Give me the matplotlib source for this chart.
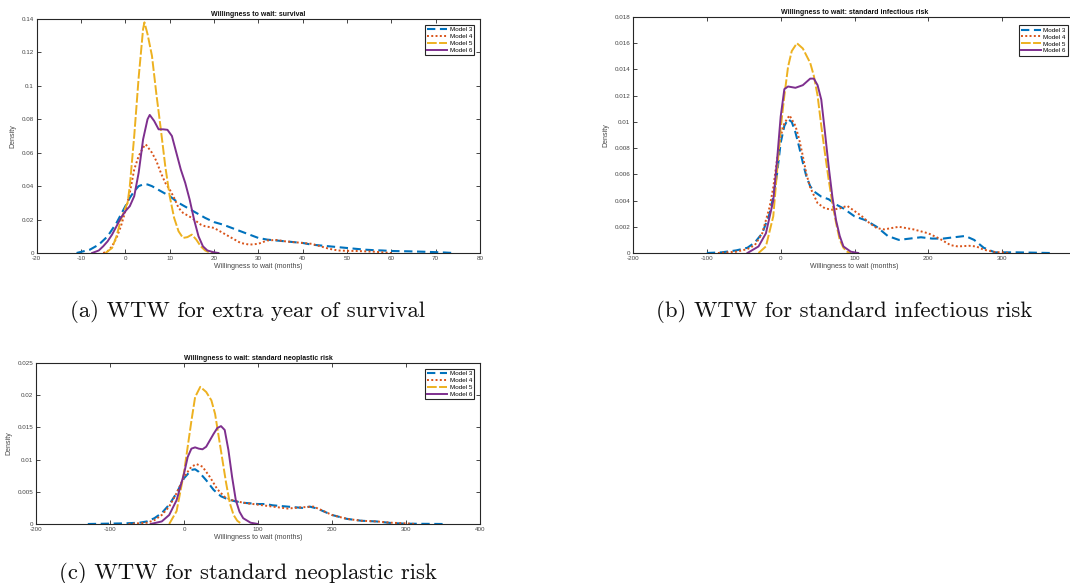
import matplotlib
matplotlib.use('Agg')
import matplotlib.pyplot as plt
from matplotlib.ticker import FuncFormatter

plt.rcParams['font.family'] = 'Liberation Sans'
plt.rcParams['axes.unicode_minus'] = False

labels = ['Model 3', 'Model 4', 'Model 5', 'Model 6']
colors = ['#0072BD', '#D95319', '#EDB120', '#7E2F8E']
styles = [(0, (4, 2.2)), (0, (1, 1.2)), (0, (5, 1.2)), '-']
widths = [1.5, 1.4, 1.4, 1.4]

# (a) survival
surv_m3_x = [-11, -8, -6, -4, -2, 0, 1, 2, 3, 4, 5, 6, 8, 10, 12, 14, 16, 18, 20, 22, 24, 26, 28, 30,
             32, 34, 36, 38, 40, 42, 44, 46, 48, 50, 52, 54, 56, 58, 60, 64, 68, 72, 74]
surv_m3_y = [0, 0.002, 0.005, 0.01, 0.018, 0.028, 0.033, 0.037, 0.040, 0.041, 0.041, 0.040, 0.037,
             0.034, 0.030, 0.027, 0.024, 0.021, 0.0185, 0.017, 0.015, 0.013, 0.011, 0.009, 0.008,
             0.0075, 0.007, 0.0065, 0.006, 0.005, 0.0045, 0.004, 0.0035, 0.003, 0.0025, 0.002,
             0.0017, 0.0015, 0.0012, 0.001, 0.0007, 0.0003, 0]
surv_m4_x = [-5, -4, -3, -2, -1, 0, 1, 2, 3, 4, 4.6, 6, 7, 8, 9, 10, 11, 12, 13, 15, 17, 18, 20, 22,
             24, 26, 28, 30, 32, 34, 36, 38, 40, 42, 44, 46, 48, 50, 52, 54, 56, 58, 60]
surv_m4_y = [0, 0.001, 0.004, 0.009, 0.016, 0.025, 0.036, 0.05, 0.058, 0.063, 0.065, 0.060, 0.055,
             0.048, 0.042, 0.038, 0.033, 0.027, 0.024, 0.021, 0.017, 0.016, 0.015, 0.012, 0.009,
             0.006, 0.005, 0.0055, 0.0075, 0.0078, 0.007, 0.0065, 0.006, 0.0055, 0.004, 0.0025,
             0.0015, 0.0013, 0.0012, 0.001, 0.0008, 0.0004, 0]
surv_m5_x = [-4.5, -3, -2, -1, 0, 0.5, 1, 2, 3, 4, 4.3, 5, 6, 7, 8, 9, 10, 11, 12, 13, 14, 15, 16,
             17, 18, 19, 20]
surv_m5_y = [0, 0.003, 0.01, 0.02, 0.027, 0.03, 0.04, 0.07, 0.105, 0.134, 0.138, 0.131, 0.118,
             0.095, 0.074, 0.052, 0.034, 0.021, 0.013, 0.009, 0.0095, 0.011, 0.008, 0.004, 0.0015,
             0.0003, 0]
surv_m6_x = [-7.5, -6, -5, -4, -3, -2, -1, 0, 1, 2, 3, 4, 5, 5.5, 6.5, 7.5, 8.5, 9.5, 10.5, 11.5,
             12.5, 13.5, 14.5, 15.5, 16.5, 17.5, 18.5, 20, 21]
surv_m6_y = [0, 0.0015, 0.004, 0.007, 0.011, 0.016, 0.021, 0.025, 0.028, 0.034, 0.048, 0.068, 0.080,
             0.0826, 0.079, 0.074, 0.074, 0.0737, 0.070, 0.060, 0.050, 0.042, 0.032, 0.020, 0.010,
             0.004, 0.0015, 0.0004, 0]

# (b) standard infectious risk
inf_m3_x = [-100, -80, -60, -45, -35, -25, -15, -10, -5, 0, 5, 10, 15, 20, 25, 30, 35, 40, 45, 55,
            65, 75, 85, 100, 115, 130, 145, 160, 175, 190, 205, 220, 235, 250, 262, 275, 290, 320, 365]
inf_m3_y = [0, 0.00005, 0.0002, 0.0004, 0.0008, 0.0015, 0.003, 0.0043, 0.006, 0.0084, 0.0097,
            0.0102, 0.0100, 0.0092, 0.0081, 0.0069, 0.0058, 0.0051, 0.0047, 0.0043, 0.0041, 0.0037,
            0.0034, 0.0028, 0.0025, 0.0020, 0.0013, 0.0010, 0.0011, 0.0012, 0.0011, 0.0011, 0.0012,
            0.0013, 0.0010, 0.0004, 0.00005, 0.00005, 0]
inf_m4_x = [-85, -60, -45, -35, -25, -15, -10, -5, 0, 5, 12, 20, 25, 30, 35, 40, 50, 60, 70, 80,
            90, 100, 110, 120, 130, 140, 150, 160, 170, 180, 200, 215, 230, 240, 255, 265, 275, 290, 310]
inf_m4_y = [0, 0.0001, 0.0003, 0.0006, 0.0015, 0.0035, 0.005, 0.0071, 0.0089, 0.0099, 0.0105,
            0.0097, 0.0087, 0.0074, 0.006, 0.005, 0.0038, 0.0034, 0.0033, 0.0034, 0.0036, 0.0032,
            0.0028, 0.0023, 0.0019, 0.0018, 0.0019, 0.0020, 0.0019, 0.0018, 0.0015, 0.0011, 0.0006,
            0.0005, 0.00055, 0.0005, 0.00025, 0.00008, 0]
inf_m5_x = [-30, -20, -10, 0, 5, 10, 15, 22, 30, 40, 45, 50, 55, 60, 65, 70, 75, 80, 85, 90, 95]
inf_m5_y = [0, 0.0005, 0.0028, 0.0095, 0.012, 0.0142, 0.0154, 0.0160, 0.0156, 0.0145, 0.0135,
            0.0120, 0.0097, 0.0076, 0.0056, 0.0038, 0.0023, 0.0010, 0.0004, 0.0001, 0]
inf_m6_x = [-45, -30, -20, -10, -5, 0, 5, 10, 20, 30, 40, 45, 50, 55, 60, 65, 70, 75, 80, 85, 95, 105]
inf_m6_y = [0, 0.0005, 0.0015, 0.004, 0.007, 0.0104, 0.0125, 0.0127, 0.0126, 0.0128, 0.0133,
            0.0133, 0.0128, 0.0117, 0.0092, 0.0066, 0.0043, 0.0025, 0.0013, 0.0005, 0.0001, 0]

# (c) standard neoplastic risk
neo_m3_x = [-130, -80, -60, -50, -40, -30, -20, -10, 0, 10, 15, 20, 30, 40, 50, 60, 70, 80, 100,
            110, 120, 140, 160, 170, 180, 190, 200, 220, 240, 260, 280, 300, 350]
neo_m3_y = [0, 0.0001, 0.0002, 0.0004, 0.0009, 0.0017, 0.003, 0.0048, 0.0071, 0.0084, 0.0085,
            0.0081, 0.0068, 0.0053, 0.0043, 0.0038, 0.0035, 0.0033, 0.0031, 0.0031, 0.0029, 0.0027,
            0.0025, 0.0027, 0.0024, 0.0019, 0.0014, 0.0008, 0.0005, 0.0004, 0.00015, 0.00005, 0]
neo_m4_x = [-75, -50, -40, -30, -20, -10, 0, 10, 17, 25, 35, 45, 55, 65, 80, 100, 120, 140, 160,
            175, 185, 200, 220, 240, 260, 280, 300, 312]
neo_m4_y = [0, 0.0002, 0.0006, 0.0014, 0.0027, 0.0048, 0.0073, 0.0089, 0.0093, 0.0089, 0.0073,
            0.0054, 0.0042, 0.0037, 0.0033, 0.0030, 0.0027, 0.0024, 0.0026, 0.0027, 0.0022, 0.0014,
            0.0008, 0.0005, 0.0004, 0.0002, 0.0001, 0]
neo_m5_x = [-20, -10, 0, 5, 10, 15, 22, 30, 37, 42, 47, 52, 57, 62, 67, 72, 78]
neo_m5_y = [0, 0.002, 0.008, 0.012, 0.016, 0.0197, 0.0213, 0.0205, 0.0192, 0.0171, 0.0135, 0.0099,
            0.0063, 0.0032, 0.0014, 0.0005, 0]
neo_m6_x = [-45, -30, -20, -10, 0, 5, 10, 15, 20, 25, 30, 35, 40, 45, 50, 55, 60, 65, 70, 75, 80,
            90, 100]
neo_m6_y = [0, 0.0004, 0.0014, 0.0037, 0.0078, 0.0104, 0.0117, 0.0119, 0.0117, 0.0116, 0.012,
            0.013, 0.014, 0.0149, 0.0152, 0.0146, 0.0115, 0.0073, 0.0037, 0.0019, 0.0009, 0.0002, 0]

edge = '#262626'
tick_text = '#444444'


def draw_panel(ax, curves, title, xlim, xticks, ylim, ystep, legend_pad=0.9):
    for (x, y), lab, c, ls, lw in zip(curves, labels, colors, styles, widths):
        ax.plot(x, y, color=c, linestyle=ls, linewidth=lw, label=lab)
    ax.set_xlim(*xlim)
    ax.set_ylim(*ylim)
    ax.set_xticks(xticks)
    n = int(round((ylim[1] - ylim[0]) / ystep))
    ax.set_yticks([round(ylim[0] + i * ystep, 6) for i in range(n + 1)])
    ax.yaxis.set_major_formatter(FuncFormatter(lambda v, p: '%g' % v))
    ax.xaxis.set_major_formatter(FuncFormatter(lambda v, p: '%g' % v))
    ax.tick_params(direction='in', top=True, right=True, length=3, width=0.6,
                   labelsize=4.5, labelcolor=tick_text, color=edge, pad=2)
    for s in ax.spines.values():
        s.set_color(edge)
        s.set_linewidth(0.8)
    ax.set_title(title, fontsize=5, fontweight='bold', color='#111111', pad=2.5)
    ax.set_xlabel('Willingness to wait (months)', fontsize=5, color=tick_text, labelpad=1.5)
    ax.set_ylabel('Density', fontsize=5, color=tick_text, labelpad=4)
    leg = ax.legend(loc='upper right', fontsize=4.5, fancybox=False, framealpha=1,
                    edgecolor=edge, handlelength=3.2, handletextpad=0.4, labelspacing=0.25,
                    borderpad=0.35, borderaxespad=legend_pad)
    leg.get_frame().set_linewidth(0.8)


fig = plt.figure(figsize=(10.7, 5.83), dpi=100)
W, H = 1070, 583

ax_a = fig.add_axes([36.7 / W, (H - 253) / H, 443.3 / W, 234 / H])
draw_panel(ax_a, [(surv_m3_x, surv_m3_y), (surv_m4_x, surv_m4_y),
                  (surv_m5_x, surv_m5_y), (surv_m6_x, surv_m6_y)],
           'Willingness to wait: survival', (-20, 80), range(-20, 81, 10), (0, 0.14), 0.02)

# right edge of this panel runs past the page, so the 400 tick falls outside
ax_b = fig.add_axes([633 / W, (H - 253) / H, 443 / W, 236 / H])
draw_panel(ax_b, [(inf_m3_x, inf_m3_y), (inf_m4_x, inf_m4_y),
                  (inf_m5_x, inf_m5_y), (inf_m6_x, inf_m6_y)],
           'Willingness to wait: standard infectious risk', (-200, 400), range(-200, 301, 100),
           (0, 0.018), 0.002, legend_pad=1.3)

ax_c = fig.add_axes([36 / W, (H - 524) / H, 444 / W, 161 / H])
draw_panel(ax_c, [(neo_m3_x, neo_m3_y), (neo_m4_x, neo_m4_y),
                  (neo_m5_x, neo_m5_y), (neo_m6_x, neo_m6_y)],
           'Willingness to wait: standard neoplastic risk', (-200, 400), range(-200, 401, 100),
           (0, 0.025), 0.005)

cap = dict(ha='center', va='baseline', fontsize=16.4, fontfamily='cmr10', color='#111111')
fig.text(248 / W, (H - 317) / H, '(a) WTW for extra year of survival', **cap)
fig.text(844 / W, (H - 317) / H, '(b) WTW for standard infectious risk', **cap)
fig.text(248 / W, (H - 579) / H, '(c) WTW for standard neoplastic risk', **cap)

fig.savefig('out.png', dpi=100)
